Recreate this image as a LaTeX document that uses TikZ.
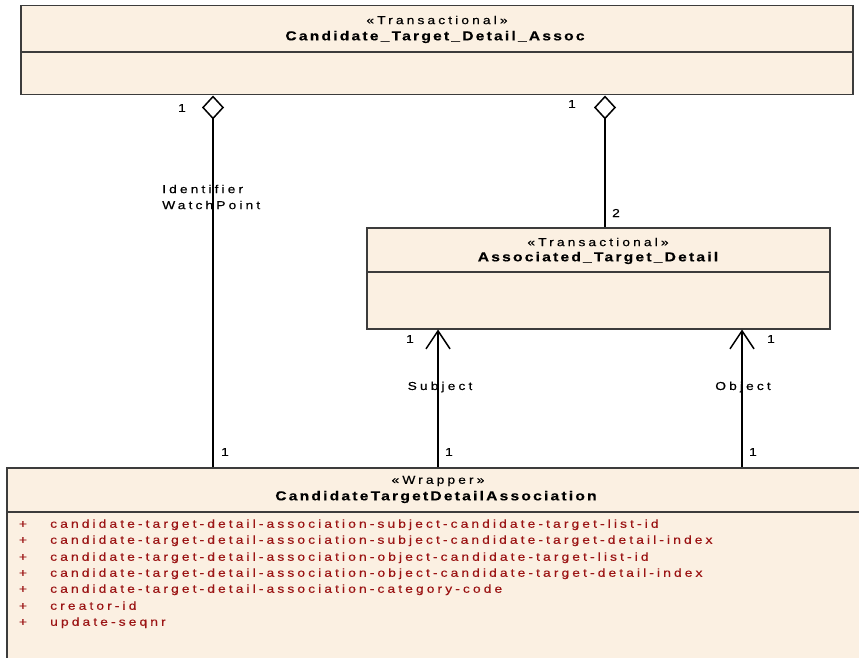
\documentclass[tikz,border=0pt]{standalone}
\usepackage{fontspec}
\usetikzlibrary{arrows.meta,positioning,calc}
\newfontfamily\umlfont[FakeStretch=1.2,FakeBold=0.4,LetterSpace=27,BoldFeatures={LetterSpace=17}]{Liberation Sans}
\definecolor{classfill}{RGB}{251,240,226}
\definecolor{classline}{RGB}{60,60,60}
\definecolor{attrred}{RGB}{155,20,20}
\newcommand{\umlattr}[3]{%
  \node[plus] (p#1) at (23,#2) {+};%
  \node[attr] (a#1) at (50,#2) {#3};%
}
\tikzset{
  classbox/.style={draw=classline,line width=1.5pt,fill=classfill,anchor=north west,inner sep=0pt},
  divider/.style={draw=classline,line width=1.3pt},
  stereo/.style={font={\umlfont\fontsize{11.5}{13}\selectfont},inner sep=0pt},
  cname/.style={font={\umlfont\bfseries\fontsize{13}{15}\selectfont},inner sep=0pt},
  attr/.style={anchor=west,inner sep=0pt,text=attrred,font={\umlfont\fontsize{11.5}{13}\selectfont},text height=8pt,text depth=2.5pt},
  plus/.style={attr,anchor=center},
  mult/.style={font={\umlfont\fontsize{11.5}{16}\selectfont},inner sep=0pt},
  role/.style={mult,anchor=west,align=left},
  agg/.style={{Diamond[open,length=24pt,width=22pt]}-,draw=black,line width=1.5pt},
  nav/.style={-{Straight Barb[length=18pt,width=24pt]},draw=black,line width=1.5pt}
}

\begin{document}
\begin{tikzpicture}[x=1pt,y=-1pt]
  \clip (0,0) rectangle (859,658);
  % classes
  \node[classbox,minimum width=832pt,minimum height=89pt] (assoc) at (20,5) {};
  \draw[divider] ($(assoc.north west)+(0,47)$) -- ($(assoc.north east)+(0,47)$);
  \node[stereo] (assocst) at (437,20) {«Transactional»};
  \node[cname] (assocnm) at (435,37) {Candidate\_Target\_Detail\_Assoc};

  \node[classbox,minimum width=463pt,minimum height=101pt] (atd) at (366,227) {};
  \draw[divider] ($(atd.north west)+(0,45)$) -- ($(atd.north east)+(0,45)$);
  \node[stereo] (atdst) at (598,242) {«Transactional»};
  \node[cname] (atdnm) at (598,258) {Associated\_Target\_Detail};

  \node[classbox,minimum width=860pt,minimum height=260pt] (wrap) at (6,467) {};
  \draw[divider] ($(wrap.north west)+(0,45)$) -- ($(wrap.north east)+(0,45)$);
  \node[stereo] (wrapst) at (438,481) {«Wrapper»};
  \node[cname] (wrapnm) at (436,497) {CandidateTargetDetailAssociation};

  % attributes
  \umlattr{1}{525}{candidate-target-detail-association-subject-candidate-target-list-id}
  \umlattr{2}{541}{candidate-target-detail-association-subject-candidate-target-detail-index}
  \umlattr{3}{558}{candidate-target-detail-association-object-candidate-target-list-id}
  \umlattr{4}{574}{candidate-target-detail-association-object-candidate-target-detail-index}
  \umlattr{5}{590}{candidate-target-detail-association-category-code}
  \umlattr{6}{607}{creator-id}
  \umlattr{7}{623}{update-seqnr}

  % connectors
  \coordinate (lx) at (213,0);
  \coordinate (rx) at (605,0);
  \coordinate (sx) at (438,0);
  \coordinate (ox) at (742,0);
  \draw[agg] (assoc.south -| lx) -- (wrap.north -| lx);
  \draw[agg] (assoc.south -| rx) -- (atd.north -| rx);
  \draw[nav] (wrap.north -| sx) -- (atd.south -| sx);
  \draw[nav] (wrap.north -| ox) -- (atd.south -| ox);

  % multiplicities and roles
  \node[mult] (m1) at (182,108) {1};
  \node[mult] (m2) at (572,104) {1};
  \node[mult] (m3) at (616,213) {2};
  \node[mult] (m4) at (410,339) {1};
  \node[mult] (m5) at (771,339) {1};
  \node[mult] (m6) at (225,452) {1};
  \node[mult] (m7) at (449,452) {1};
  \node[mult] (m8) at (753,452) {1};
  \node[role] (idwp) at (162,197) {Identifier\\WatchPoint};
  \node[mult] (subj) at (440,387) {Subject};
  \node[mult] (obj) at (743,387) {Object};
\end{tikzpicture}
\end{document}
